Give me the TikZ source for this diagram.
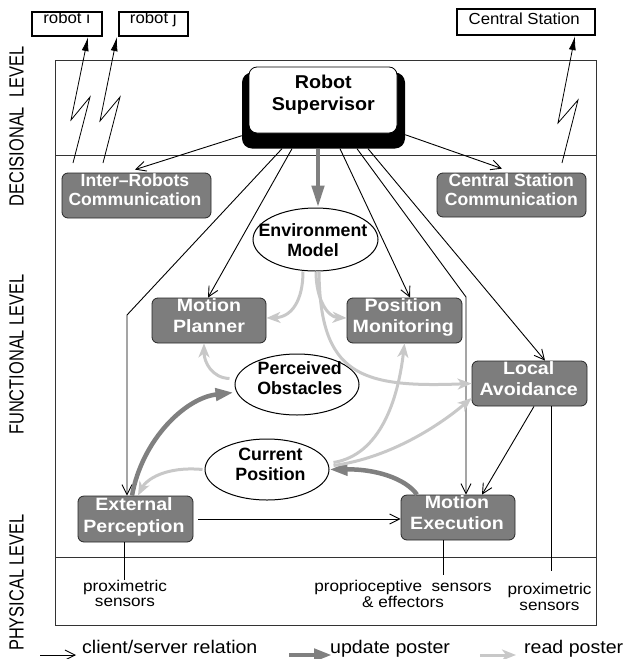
\documentclass[tikz,border=0pt]{standalone}
\usepackage{fontspec}
\setmainfont{Liberation Sans}
\newfontfamily\fntLvl[FakeStretch=0.8]{Liberation Sans}
\newfontfamily\fntWide[FakeStretch=1.1]{Liberation Sans}
\newfontfamily\fntSupF[FakeStretch=1.06]{Liberation Sans}
\newfontfamily\fntNorm{Liberation Sans}
\newfontfamily\fntLegF[FakeStretch=1.07]{Liberation Sans}
\newfontfamily\fntRobF[FakeStretch=1.05]{Liberation Sans}
\usetikzlibrary{arrows.meta,shapes.geometric,calc}
\definecolor{boxgray}{RGB}{125,125,125}
\definecolor{updgray}{RGB}{128,128,128}
\definecolor{readgray}{RGB}{200,200,200}
\tikzset{
  frame/.style={draw=black!80, line width=0.9pt},
  lvl/.style={inner sep=0pt, font={\fntLvl\fontsize{20.5}{22}\selectfont}},
  rbox/.style={draw=black, line width=2.2pt, fill=white, inner sep=0pt},
  rtxt/.style={inner sep=0pt, font={\fntRobF\fontsize{16}{18}\selectfont}},
  shadowbox/.style={fill=black, rounded corners=10pt, inner sep=0pt},
  supbox/.style={draw=black, line width=0.8pt, fill=white, rounded corners=8pt, inner sep=0pt},
  suptxt/.style={align=center, inner sep=0pt, font={\fntSupF\bfseries\fontsize{18.6}{21.7}\selectfont}},
  gbox/.style={draw=black!85, line width=0.8pt, fill=boxgray, rounded corners=6pt, inner sep=0pt},
  gtxt/.style={text=white, align=center, inner sep=0pt, font={\fntWide\bfseries\fontsize{17.8}{21.2}\selectfont}},
  ctxt/.style={text=white, align=center, inner sep=0pt, font={\fntNorm\bfseries\fontsize{17.6}{18.6}\selectfont}},
  ell/.style={ellipse, draw=black, line width=1pt, fill=white, inner sep=0pt},
  etxt/.style={align=center, inner sep=0pt, font={\fntNorm\bfseries\fontsize{17.8}{20}\selectfont}},
  sentxt/.style={align=center, inner sep=0pt, font={\fntWide\fontsize{15.6}{15.5}\selectfont}},
  legtxt/.style={inner sep=0pt, font={\fntLegF\fontsize{18.3}{20}\selectfont}},
  clsv/.style={draw=black, line width=0.9pt, -{Straight Barb[length=10pt,width=10pt]}},
  upd/.style={draw=updgray, line width=4.5pt, -{Triangle[length=18pt,width=12pt]}},
  rd/.style={draw=readgray, line width=3pt, -{Stealth[length=14pt,width=11pt,inset=4pt]}},
  zig/.style={draw=black, line width=0.8pt, -{Latex[length=14pt,width=7pt]}},
  plainln/.style={draw=black, line width=0.9pt}
}
\begin{document}
\begin{tikzpicture}[x=1pt,y=-1pt]
\useasboundingbox (0,0) rectangle (626,659);

% frame and level separators
\draw[frame] (55,60) rectangle (596,625);
\draw[frame] (55,155) -- (596,155);
\draw[frame] (55,557) -- (596,557);

% level labels
\node[lvl, rotate=90] (lv1) at (16.5,126.5) {DECISIONAL\ \ LEVEL};
\node[lvl, rotate=90] (lv2) at (16.5,354.5) {FUNCTIONAL LEVEL};
\node[lvl, rotate=90] (lv3) at (16.5,582.5) {PHYSICAL LEVEL};

% external entities
\node[rbox, minimum width=70, minimum height=24] (ri) at (67,24) {};
\node[rtxt, anchor=base] (riT) at (66.7,23.5) {robot i};
\node[rbox, minimum width=69, minimum height=24] (rj) at (153.5,24) {};
\node[rtxt, anchor=base] (rjT) at (153.3,23.5) {robot j};
\node[rbox, minimum width=138, minimum height=26] (stn) at (526,22) {};
\node[rtxt, anchor=base] (stnT) at (524.2,24) {Central Station};

% supervisor
\node[shadowbox, minimum width=163, minimum height=76] (sups) at (323.5,110.5) {};
\node[supbox, minimum width=148, minimum height=66] (sup) at (323,100) {};
\node[suptxt] (supT) at (323.3,94.5) {Robot\\Supervisor};

% modules
\node[gbox, minimum width=149, minimum height=45] (ir) at (136.5,195.5) {};
\node[ctxt] (irT) at (135,189.7) {Inter\textendash Robots\\Communication};
\node[gbox, minimum width=149, minimum height=44] (csc) at (511.5,195) {};
\node[ctxt] (cscT) at (511.3,189.7) {Central Station\\Communication};
\node[gbox, minimum width=114, minimum height=45] (mp) at (209,320.5) {};
\node[gtxt] (mpT) at (209,315.5) {Motion\\Planner};
\node[gbox, minimum width=115, minimum height=45] (pm) at (404.5,320.5) {};
\node[gtxt] (pmT) at (403.3,317.4) {Position\\Monitoring};
\node[gbox, minimum width=115, minimum height=45] (la) at (529.5,383.5) {};
\node[gtxt] (laT) at (528.7,378.3) {Local\\Avoidance};
\node[gbox, minimum width=115, minimum height=46] (ep) at (135.5,519) {};
\node[gtxt] (epT) at (134,516.9) {External\\Perception};
\node[gbox, minimum width=114, minimum height=45] (me) at (458,517.5) {};
\node[gtxt] (meT) at (457,512.9) {Motion\\Execution};

% posters
\node[ell, minimum width=125, minimum height=63] (env) at (315.5,239.5) {};
\node[etxt] (envT) at (313,240.3) {Environment\\Model};
\node[ell, minimum width=124, minimum height=61] (po) at (297,384.5) {};
\node[etxt] (poT) at (299.8,378.3) {Perceived\\Obstacles};
\node[ell, minimum width=124, minimum height=61] (cp) at (267,469.5) {};
\node[etxt] (cpT) at (270.5,464) {Current\\Position};

% sensors
\node[sentxt] (sen1) at (125,593.5) {proximetric\\sensors};
\node[sentxt] (sen2) at (403,594) {proprioceptive\ \ sensors\\\&\ effectors};
\node[sentxt] (sen3) at (549.5,597) {proximetric\\sensors};
\draw[plainln] ([xshift=-11.5pt]ep.south) -- ([xshift=-11.5pt]ep.south |- sen1.north);
\draw[plainln, shorten >=5pt] ([xshift=-15pt]me.south) -- ([xshift=-15pt]me.south |- sen2.north);
\draw[plainln, shorten >=12pt] ([xshift=21.5pt]la.south) -- ([xshift=21.5pt]la.south |- sen3.north);

% radio links
\coordinate (zi0) at (73,163);
\coordinate (zj0) at (103,163);
\coordinate (zc0) at (562,163);
\draw[zig] (zi0) -- (90,97) -- (71,120) -- ([xshift=21pt]ri.south);
\draw[zig] (zj0) -- (120,97) -- (100,121) -- ([xshift=-1pt]rj.south west);
\draw[zig] (zc0) -- (578,100) -- (558,123) -- ([xshift=49pt]stn.south);

% client/server relations
\coordinate (b1) at (127,315);
\coordinate (b2) at (466,297);
\draw[clsv] ([yshift=13pt]sups.south west) -- ([xshift=-1.5pt,yshift=3pt]ir.north);
\draw[clsv] ([yshift=14pt]sups.south east) -- ([xshift=-9.5pt,yshift=4pt]csc.north);
\draw[clsv] ([xshift=-41.5pt]sups.south) -- (b1) -- (b1 |- ep.north);
\draw[clsv] ([xshift=-31.5pt]sups.south) -- ([xshift=-1pt]mp.north);
\draw[clsv] ([xshift=16.5pt]sups.south) -- ([xshift=5.5pt]pm.north);
\draw[clsv] ([xshift=33.5pt]sups.south) -- (b2) -- (b2 |- me.north);
\draw[clsv] ([xshift=44.5pt]sups.south) -- ([xshift=15.5pt]la.north);
\draw[clsv] ([xshift=4.5pt]la.south) -- ([xshift=24pt]me.north);
\draw[clsv] ([xshift=5pt]ep.east) -- (ep.east -| me.west);

% update poster
\draw[upd, -{Triangle[length=22pt,width=12pt]}] ([xshift=-5.5pt]sups.south) -- ([xshift=2.5pt]env.north);
\draw[upd] ([xshift=-3.5pt]ep.north) .. controls (142,440) and (185,398) .. ([shift={(-1pt,-8pt)}]po.west);
\draw[upd] ([xshift=-41pt]me.north) .. controls (405,478) and (375,469) .. (cp.east);

% read poster
\draw[rd] ([xshift=-12.5pt]env.south) .. controls (303,300) and (292,317) .. ([yshift=2.5pt]mp.east);
\draw[rd] ([xshift=0.5pt]env.south) .. controls (316,300) and (328,317) .. ([yshift=2.5pt]pm.west);
\draw[rd] ([xshift=3.5pt]env.south) .. controls (320,375) and (360,388) .. (la.west);
\draw[rd] ([shift={(-5pt,6pt)}]po.west) .. controls (212,378) and (204,362) .. ([xshift=-5pt]mp.south);
\draw[rd] ([shift={(4pt,7pt)}]cp.east) .. controls (380,455) and (398,400) .. (pm.south);
\draw[rd] ([shift={(4pt,4pt)}]cp.east) .. controls (390,458) and (440,425) .. ([yshift=-14.5pt]la.west);
\draw[rd] ([xshift=-2pt]cp.west) .. controls (165,466) and (146,480) .. ([xshift=2.5pt]ep.north);

% legend
\node[legtxt, anchor=base west] (lg1) at (82,653) {client/server relation};
\node[legtxt, anchor=base west] (lg2) at (330,653) {update poster};
\node[legtxt, anchor=base west] (lg3) at (524,653) {read poster};
\draw[clsv] ([shift={(-42pt,-2pt)}]lg1.base west) -- ([shift={(-6pt,-2pt)}]lg1.base west);
\draw[upd] ([shift={(-41pt,-2pt)}]lg2.base west) -- ([shift={(2pt,-2pt)}]lg2.base west);
\draw[rd] ([shift={(-44pt,-2pt)}]lg3.base west) -- ([shift={(-8pt,-2pt)}]lg3.base west);
\end{tikzpicture}
\end{document}
